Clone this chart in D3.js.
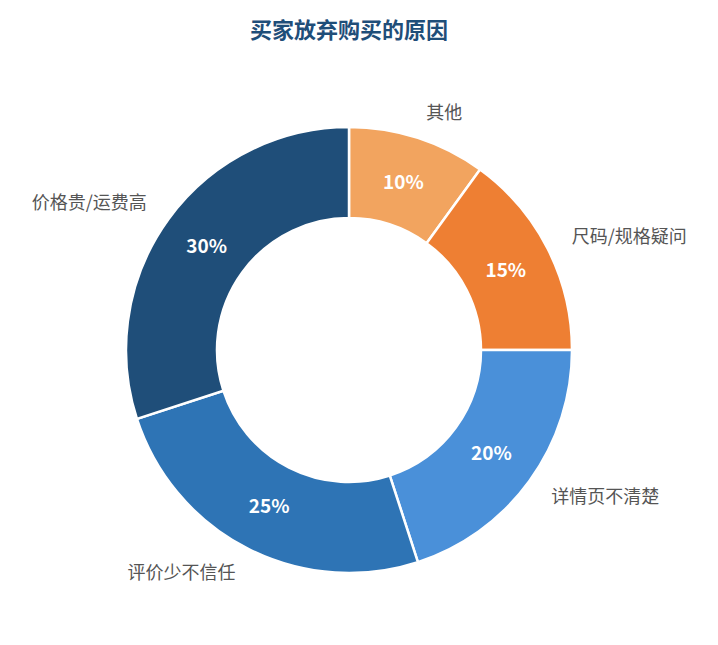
<!DOCTYPE html>
<html><head><meta charset="utf-8">
<script src="https://cdn.jsdelivr.net/npm/d3@7"></script>
<style>body{margin:0;background:#fff}</style>
</head><body>
<svg id="chart" width="718" height="645"></svg>
<script>
var categories = ['其他', '尺码/规格疑问', '详情页不清楚', '评价少不信任', '价格贵/运费高'];
var values = [10, 15, 20, 25, 30];
var colors = ['#f2a45f', '#ee7f33', '#4a90d9', '#2e74b5', '#1f4e79'];

var svg = d3.select('#chart');
var font = '"Noto Sans CJK SC", "Noto Sans", sans-serif';

svg.append('text').attr('x', 349).attr('y', 38).attr('text-anchor', 'middle')
  .attr('font-family', font).attr('font-size', 22).attr('font-weight', 'bold')
  .attr('fill', '#1f4e79').text('买家放弃购买的原因');

var g = svg.append('g').attr('transform', 'translate(349,350)');
var pie = d3.pie().sort(null).value(function(d){ return d; });
var arcs = pie(values);
var arc = d3.arc().innerRadius(132).outerRadius(223);
var mid = function(d){ return (d.startAngle + d.endAngle) / 2; };

g.selectAll('path').data(arcs).enter().append('path')
  .attr('d', arc).attr('fill', function(d, i){ return colors[i]; })
  .attr('stroke', '#fff').attr('stroke-width', 2.5);

g.selectAll('.pct').data(arcs).enter().append('text')
  .attr('x', function(d){ return 176 * Math.sin(mid(d)); })
  .attr('y', function(d){ return -176 * Math.cos(mid(d)); })
  .attr('dy', '0.35em').attr('text-anchor', 'middle')
  .attr('font-family', font).attr('font-size', 19).attr('font-weight', 'bold')
  .attr('fill', '#fff').text(function(d){ return d.data + '%'; });

g.selectAll('.lbl').data(arcs).enter().append('text')
  .attr('x', function(d){ return 250 * Math.sin(mid(d)); })
  .attr('y', function(d){ return -250 * Math.cos(mid(d)); })
  .attr('dy', '0.35em')
  .attr('text-anchor', function(d){ return Math.sin(mid(d)) > 0 ? 'start' : 'end'; })
  .attr('font-family', font).attr('font-size', 18)
  .attr('fill', '#555').text(function(d, i){ return categories[i]; });
</script>
</body></html>
